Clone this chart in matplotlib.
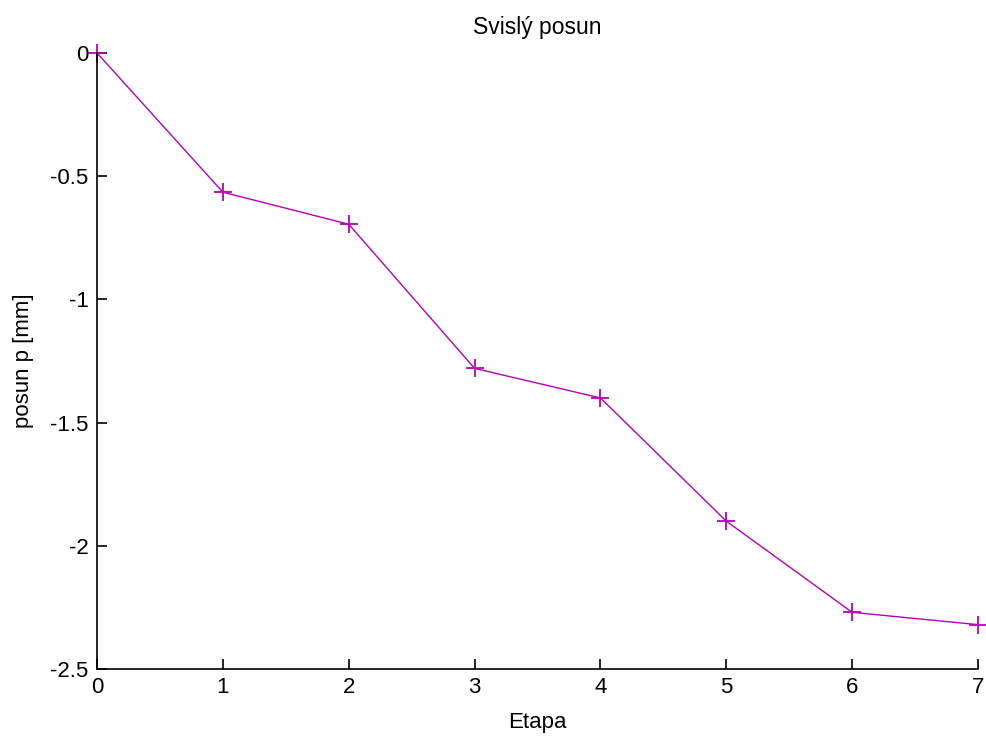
import matplotlib.pyplot as plt

plt.rcParams['font.family'] = ['Liberation Sans', 'DejaVu Sans']
plt.rcParams['font.size'] = 16

# stage number and vertical displacement [mm]
etapa = [0, 1, 2, 3, 4, 5, 6, 7]
posun = [0.0, -0.565, -0.695, -1.28, -1.40, -1.90, -2.27, -2.32]

xticks = [0, 1, 2, 3, 4, 5, 6, 7]
yticks = [0, -0.5, -1, -1.5, -2, -2.5]
ytick_labels = ['0', '-0.5', '-1', '-1.5', '-2', '-2.5']

fig = plt.figure(figsize=(9.86, 7.38), dpi=100)
ax = fig.add_axes([0.0984, 0.0935, 0.8935, 0.8347])

ax.plot(etapa, posun, color='#b800b8', linewidth=1.0, marker='+',
        markersize=13, markeredgewidth=1.3, clip_on=False)

ax.set_xlim(0, 7)
ax.set_ylim(-2.5, 0)
ax.set_xticks(xticks)
ax.set_yticks(yticks)
ax.set_yticklabels(ytick_labels)

for side in ['top', 'right']:
    ax.spines[side].set_visible(False)
for side in ['left', 'bottom']:
    ax.spines[side].set_linewidth(1.2)
ax.tick_params(direction='in', length=7, width=1.2)
ax.tick_params(axis='y', pad=6)
ax.tick_params(axis='x', pad=6)

ax.set_title('Svislý posun', fontsize=16.5, pad=14)
ax.set_xlabel('Etapa', labelpad=10)
ax.set_ylabel('posun p [mm]', labelpad=12)

plt.savefig('out.png', dpi=100)
